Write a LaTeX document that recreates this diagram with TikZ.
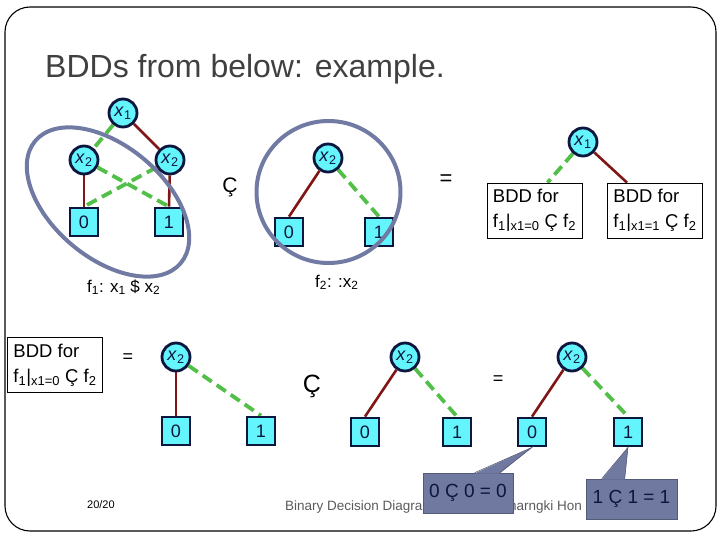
\documentclass[tikz,border=0pt]{standalone}
\usepackage{fontspec}
\setmainfont{Liberation Sans}
\usetikzlibrary{backgrounds,calc}
\definecolor{cyanf}{RGB}{100,245,252}
\definecolor{navy}{RGB}{12,22,62}
\definecolor{dred}{RGB}{128,22,22}
\definecolor{lgreen}{RGB}{82,192,72}
\definecolor{ellc}{RGB}{112,122,162}
\definecolor{callc}{RGB}{112,122,160}
\definecolor{titlec}{RGB}{64,64,64}
\definecolor{footc}{RGB}{90,90,90}
\newcommand{\xs}[1]{\textit{x}\textsubscript{#1}}
\tikzset{
  bddv/.style={circle, draw=navy, line width=2.8pt, fill=cyanf, minimum size=28pt, inner sep=0pt, text=navy, font=\fontsize{18}{18}\selectfont},
  bddt/.style={rectangle, draw=navy, line width=2.8pt, fill=cyanf, minimum size=28pt, inner sep=0pt, text=navy, font=\fontsize{18}{18}\selectfont},
  hiedge/.style={draw=dred, line width=2.6pt},
  loedge/.style={draw=lgreen, line width=3.8pt, dash pattern=on 11pt off 6pt},
  ring/.style={draw=ellc, line width=4pt},
  bddbox/.style={rectangle, draw=black, line width=0.8pt, fill=white, minimum width=95pt, minimum height=55pt, align=left, inner xsep=3pt, inner ysep=3pt, font=\fontsize{18.5}{25}\selectfont},
  optext/.style={inner sep=0pt},
  eqtext/.style={inner sep=0pt, font=\fontsize{18}{18}\selectfont},
  lbltext/.style={inner sep=0pt, anchor=base west, font=\fontsize{17}{17}\selectfont},
  callbox/.style={rectangle, fill=callc, draw=callc!75!black, line width=0.6pt, minimum width=90pt, minimum height=40pt, inner sep=0pt, text=navy, font=\fontsize{19}{19}\selectfont},
  callptr/.style={fill=callc, draw=callc!75!black, line width=0.6pt},
}
\begin{document}
\begin{tikzpicture}[x=1pt,y=-1pt]
\useasboundingbox (0,0) rectangle (720,540);
% slide frame
\draw[line width=1.1pt, rounded corners=25pt] (5,7) rectangle (716,531);
% title
\node[anchor=base west, inner sep=0pt, text=titlec, font=\fontsize{32}{32}\selectfont] (title) at (45,78) {BDDs from below: example.};

% ---------- top left: f1 ----------
\node[bddv] (tlx1) at (123,113) {\xs{1}};
\node[bddv] (tlx2a) at (84,160) {\xs{2}};
\node[bddv] (tlx2b) at (170,160) {\xs{2}};
\node[bddt] (tl0) at (84,222) {0};
\node[bddt] (tl1) at (169,222) {1};
\node[lbltext] (lf1) at (87,292) {f\textsubscript{1}: x\textsubscript{1} \$ x\textsubscript{2}};

% operator
\node[optext, font=\fontsize{21}{21}\selectfont, anchor=base] (op1) at (230,193) {Ç};

% ---------- top middle: f2 ----------
\node[bddv] (tmx2) at (328,158) {\xs{2}};
\node[bddt] (tm0) at (289,232) {0};
\node[bddt] (tm1) at (379,232) {1};
\node[lbltext] (lf2) at (315,287) {f\textsubscript{2}: :x\textsubscript{2}};

\node[eqtext, font=\fontsize{22}{22}\selectfont] (eq1) at (446,180) {=};

% ---------- top right ----------
\node[bddv] (trx1) at (583,142) {\xs{1}};
\node[bddbox] (trA) at (534.5,210.5) {BDD for\\f\textsubscript{1}|\textsubscript{x1=0} Ç f\textsubscript{2}};
\node[bddbox] (trB) at (655,210.5) {BDD for\\f\textsubscript{1}|\textsubscript{x1=1} Ç f\textsubscript{2}};

% ---------- bottom left ----------
\node[bddbox] (bC) at (55,365) {BDD for\\f\textsubscript{1}|\textsubscript{x1=0} Ç f\textsubscript{2}};
\node[eqtext] (eq2) at (128,358) {=};
\node[bddv] (blx2) at (176,357) {\xs{2}};
\node[bddt] (bl0) at (176,431) {0};
\node[bddt] (bl1) at (261,431) {1};

\node[optext, font=\fontsize{25}{25}\selectfont, anchor=base] (op2) at (312,392) {Ç};

% ---------- bottom middle ----------
\node[bddv] (bmx2) at (405,357) {\xs{2}};
\node[bddt] (bm0) at (365,432) {0};
\node[bddt] (bm1) at (457,432) {1};

\node[eqtext] (eq3) at (498,380) {=};

% ---------- bottom right ----------
\node[bddv] (brx2) at (572,357) {\xs{2}};
\node[bddt] (br0) at (532,432) {0};
\node[bddt] (br1) at (628,432) {1};

% edges
\begin{scope}[on background layer]
\draw[loedge] (tlx1) -- (tlx2a);
\draw[hiedge] (tlx1) -- (tlx2b);
\draw[hiedge] (tlx2a) -- (tl0.north);
\draw[loedge] (tlx2a) -- (tl1.north);
\draw[loedge] (tlx2b) -- (tl0.north);
\draw[hiedge] (tlx2b) -- (tl1.north);
\draw[hiedge] (tmx2) -- (tm0.north);
\draw[loedge] (tmx2) -- (tm1.north);
\draw[loedge] (trx1) -- ([xshift=13pt]trA.north);
\draw[hiedge] (trx1) -- ([xshift=-28pt]trB.north);
\draw[hiedge] (blx2) -- (bl0.north);
\draw[loedge] (blx2) -- (bl1.north);
\draw[hiedge] (bmx2) -- (bm0.north);
\draw[loedge] (bmx2) -- (bm1.north);
\draw[hiedge] (brx2) -- (br0.north);
\draw[loedge] (brx2) -- (br1.north);
\end{scope}

% rings
\draw[ring, rotate around={-40:(108,202)}] (108,202) ellipse [x radius=95, y radius=56];
\draw[ring] (328.5,192) ellipse [x radius=72, y radius=71];

% footer
\node[anchor=base west, inner sep=0pt, font=\fontsize{11}{11}\selectfont] (pg) at (87,508) {20/20};
\node[anchor=base west, inner sep=0pt, text=footc, font=\fontsize{13.5}{13.5}\selectfont] (ft1) at (285,510) {Binary Decision Diagra};
\node[anchor=base west, inner sep=0pt, text=footc, font=\fontsize{13.5}{13.5}\selectfont] (ft2) at (509,510) {harngki Hon};

% callouts
\node[callbox] (c0) at (468,493) {0 Ç 0 = 0};
\node[callbox, minimum width=91pt] (c1) at (631.5,499) {1 Ç 1 = 1};
\fill[callc] ($(c0.north west)+(52,0.8)$) -- (br0.south) -- ($(c0.north west)+(77,0.8)$) -- cycle;
\draw[callptr, fill=none] ($(c0.north west)+(52,0)$) -- (br0.south) -- ($(c0.north west)+(77,0)$);
\fill[callc] ($(c1.north west)+(16,0.8)$) -- (br1.south) -- ($(c1.north west)+(39,0.8)$) -- cycle;
\draw[callptr, fill=none] ($(c1.north west)+(16,0)$) -- (br1.south) -- ($(c1.north west)+(39,0)$);
\end{tikzpicture}
\end{document}
